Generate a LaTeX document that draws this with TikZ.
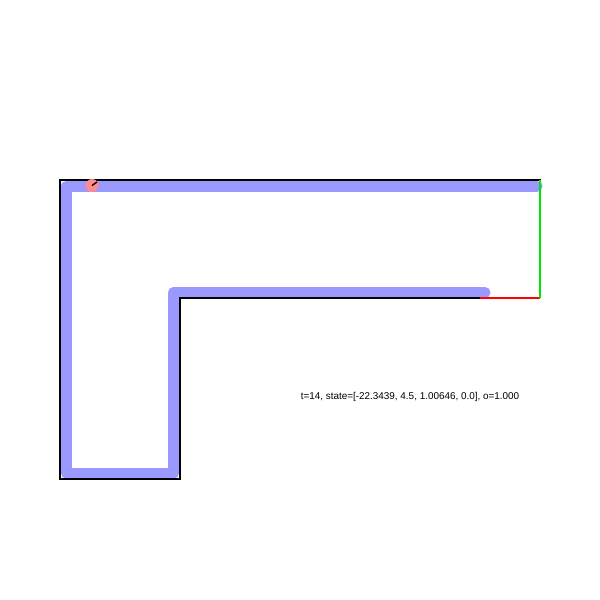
\documentclass[tikz,border=0pt]{standalone}
\usepackage{fontspec}
\setmainfont{Liberation Sans}
\definecolor{trail}{RGB}{153,153,255}
\definecolor{agent}{RGB}{255,140,140}
\definecolor{goalg}{RGB}{0,230,0}
\tikzset{
  wall/.style={line width=1.8pt, black, line cap=rect},
  trailpath/.style={line width=11pt, trail, line join=round, line cap=round},
}
\begin{document}
\begin{tikzpicture}[x=1pt,y=-1pt]
\useasboundingbox (0,0) rectangle (600,600);
\fill[white] (0,0) rectangle (600,600);
% trajectory
\draw[trailpath] (485,292.5) -- (173.5,292.5) -- (173.5,473) -- (66.5,473) -- (66.5,186) -- (537,186);
% walls
\coordinate (tl) at (60,180);
\coordinate (tr) at (540,180);
\coordinate (bl) at (60,479);
\coordinate (bm) at (180,479);
\coordinate (im) at (180,298);
\coordinate (ir) at (480,298);
\coordinate (br) at (540,298);
\draw[wall] (tr) -- (tl) -- (bl) -- (bm) -- (im) -- (ir);
\draw[line width=1.6pt, red] (ir) -- (br);
\draw[line width=1.6pt, goalg] (tr) -- (br);
% agent
\node[circle, fill=agent, minimum size=13pt, inner sep=0pt] (agentc) at (92,185.5) {};
\draw[line width=1.4pt, black] (agentc.center) -- ++(5,-3.5);
% label
\node[font=\fontsize{9.9}{11}\selectfont, inner sep=0pt] (lbl) at (410,397) {t=14, state=[-22.3439, 4.5, 1.00646, 0.0], o=1.000};
\end{tikzpicture}
\end{document}
